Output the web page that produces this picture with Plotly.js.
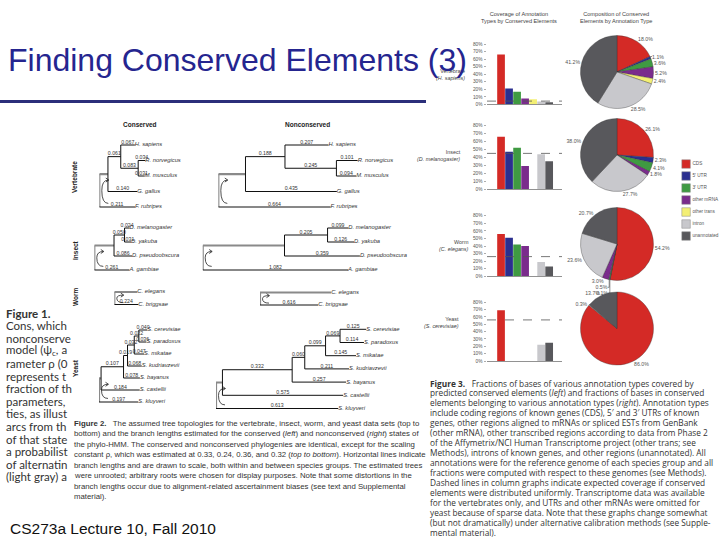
<!DOCTYPE html>
<html><head><meta charset="utf-8">
<script src="https://cdn.plot.ly/plotly-3.0.1.min.js"></script>
<style>html,body{margin:0;padding:0;background:#fff}#chart{width:720px;height:540px}</style>
</head><body><div id="chart"></div>
<script>
// ================= DATA =================
const annotationTypes = ["CDS", "5\u2032 UTR", "3\u2032 UTR", "other mRNA", "other trans", "intron", "unannotated"];
const typeColors = ["#d42a26", "#2b2f8f", "#3f9a42", "#7a2c8c", "#f3ef74", "#c8c8cc", "#58585c"];
const speciesGroups = ["Vertebrate", "Insect", "Worm", "Yeast"];
const referenceGenomes = ["H. sapiens", "D. melanogaster", "C. elegans", "S. cerevisiae"];

// coverage of annotation types by conserved elements (%)
const coverageVertebrate = [66, 21, 17, 8, 7, 4, 3];
const coverageInsect     = [66, 47, 52, 29, null, 44, 35];
const coverageWorm       = [56, 51, 42, 40, null, 19, 13];
const coverageYeast      = [69, null, null, null, null, 22, 25];
const expectedCoverage   = [4.5, 45, 26, 56];
const coverageTickVals   = [0, 10, 20, 30, 40, 50, 60, 70, 80];
const coverageTickText   = ["0%", "10%", "20%", "30%", "40%", "50%", "60%", "70%", "80%"];

// composition of conserved elements by annotation type (%)
const compositionVertebrate = [18.0, 1.1, 3.6, 5.2, 2.4, 28.5, 41.2];
const compositionInsect     = [26.1, 2.3, 4.1, 1.8, null, 27.7, 38.0];
const compositionWorm       = [54.2, 0.1, 0.5, 3.0, null, 23.6, 20.7];
const compositionYeast      = [86.0, null, null, null, null, 0.3, 13.7];

// phylogenies (parent lists + branch lengths; root edge label on the 2nd root child)
const vertNodes   = ["root", "n1", "n2", "H. sapiens", "n3", "R. norvegicus", "M. musculus", "G. gallus", "F. rubripes"];
const vertParents = ["", "root", "n1", "n2", "n2", "n3", "n3", "n1", "root"];
const vertConserved    = [null, null, 0.061, 0.067, 0.083, 0.034, 0.031, 0.140, 0.211];
const vertNonconserved = [null, null, 0.188, 0.207, 0.245, 0.101, 0.094, 0.435, 0.664];

const insectNodes   = ["root", "n1", "n2", "D. melanogaster", "D. yakuba", "D. pseudoobscura", "A. gambiae"];
const insectParents = ["", "root", "n1", "n2", "n2", "n1", "root"];
const insectConserved    = [null, null, 0.050, 0.024, 0.031, 0.086, 0.261];
const insectNonconserved = [null, null, 0.205, 0.099, 0.126, 0.359, 1.082];

const wormNodes   = ["root", "C. elegans", "C. briggsae"];
const wormParents = ["", "root", "root"];
const wormConserved    = [null, null, 0.224];
const wormNonconserved = [null, null, 0.616];

const yeastNodes   = ["root", "n1", "n2", "n3", "n4", "n5", "S. cerevisiae", "S. paradoxus", "S. mikatae", "S. kudriavzevii", "S. bayanus", "S. castellii", "S. kluyveri"];
const yeastParents = ["", "root", "n1", "n2", "n3", "n4", "n5", "n5", "n4", "n3", "n2", "n1", "root"];
const yeastConserved    = [null, null, 0.107, 0.019, 0.032, 0.022, 0.040, 0.036, 0.047, 0.068, 0.078, 0.184, 0.197];
const yeastNonconserved = [null, null, 0.332, 0.060, 0.099, 0.069, 0.125, 0.114, 0.145, 0.211, 0.257, 0.575, 0.613];

// ================= LAYOUT HELPERS =================
const W = 720, H = 540;
const fx = p => p / W, fy = p => 1 - p / H;
const domX = (a, b) => [fx(a), Math.min(1, fx(b))];
const domY = (top, bot) => [Math.max(0, fy(bot)), Math.min(1, fy(top))];
const FONT = "Liberation Sans, Arial, sans-serif";
const PX_PER_UNIT = 210;

const traces = [];
const layout = {
  width: W, height: H, margin: {l: 0, r: 0, t: 0, b: 0},
  paper_bgcolor: "#ffffff", plot_bgcolor: "rgba(0,0,0,0)",
  showlegend: false, bargap: 0.04, font: {family: FONT, color: "#333"},
  annotations: [], shapes: []
};
let axisCount = 0;
function newAxes(xdom, ydom, xopt, yopt) {
  axisCount++;
  const n = axisCount === 1 ? "" : String(axisCount);
  layout["xaxis" + n] = Object.assign({domain: xdom, anchor: "y" + n, fixedrange: true}, xopt);
  layout["yaxis" + n] = Object.assign({domain: ydom, anchor: "x" + n, fixedrange: true}, yopt);
  return {x: "x" + n, y: "y" + n};
}

// ================= BAR CHARTS =================
const coverageSeries = [coverageVertebrate, coverageInsect, coverageWorm, coverageYeast];
const barBoxes = [[44, 104.5], [125.7, 189], [215.7, 276.3], [302.3, 361]];
coverageSeries.forEach((vals, k) => {
  const ax = newAxes(domX(487, 562), domY(barBoxes[k][0], barBoxes[k][1]),
    {type: "category", range: [-1.75, 7.6], showline: true, linecolor: "#777", linewidth: 0.8,
     showticklabels: false, ticks: "", showgrid: false, zeroline: false},
    {range: [0, 80], tickvals: coverageTickVals, ticktext: coverageTickText, ticks: "outside",
     ticklen: 2.5, tickwidth: 0.6, tickcolor: "#777", showline: false, showgrid: false,
     zeroline: false, tickfont: {size: 4.8, color: "#555", family: FONT}});
  traces.push({type: "bar", x: annotationTypes, y: vals, xaxis: ax.x, yaxis: ax.y,
    marker: {color: typeColors, line: {width: 0}}, hoverinfo: "skip"});
  layout.shapes.push({type: "line", xref: ax.x + " domain", yref: ax.y, x0: 0, x1: 1,
    y0: expectedCoverage[k], y1: expectedCoverage[k], line: {color: "#555", width: 0.8, dash: "dash"}});
});

// ================= PIE CHARTS =================
const compositionSeries = [compositionVertebrate, compositionInsect, compositionWorm, compositionYeast];
const pieCentersY = [72, 155, 244, 328.5];
const pieR = 36.5, pieCX = 617;
compositionSeries.forEach((vals, k) => {
  traces.push({type: "pie", labels: annotationTypes, values: vals, sort: false,
    direction: "clockwise", rotation: 0,
    domain: {x: domX(pieCX - pieR, pieCX + pieR), y: domY(pieCentersY[k] - pieR, pieCentersY[k] + pieR)},
    marker: {colors: typeColors, line: {color: "#333", width: 0.35}},
    texttemplate: "%{value:.1f}%", textposition: "outside",
    outsidetextfont: {size: 5.2, color: "#555", family: FONT},
    hoverinfo: "skip", showlegend: false});
});

// ================= LEGEND (custom) =================
{
  const ax = newAxes(domX(682, 720), domY(158, 242),
    {range: [-0.6, 5], visible: false}, {range: [6.5, -0.5], visible: false});
  traces.push({type: "scatter", mode: "markers+text", xaxis: ax.x, yaxis: ax.y,
    x: annotationTypes.map(() => 0), y: annotationTypes.map((_, i) => i),
    text: annotationTypes, textposition: "middle right",
    textfont: {size: 4.7, color: "#555", family: FONT},
    marker: {symbol: "square", size: 8.5, color: typeColors, line: {color: "#888", width: 0.5}},
    cliponaxis: false, hoverinfo: "skip"});
}

// ================= TREES =================
function layoutTree(nodes, parents, len, rootFrac) {
  const kids = nodes.map(() => []);
  parents.forEach((p, i) => { if (p !== "") kids[nodes.indexOf(p)].push(i); });
  const x = [], y = [];
  let leaf = 0;
  function place(i, xi) {
    x[i] = xi;
    if (!kids[i].length) { y[i] = leaf++; return; }
    kids[i].forEach(c => place(c, xi + len[c]));
    const ys = kids[i].map(c => y[c]);
    y[i] = (Math.min(...ys) + Math.max(...ys)) / 2;
  }
  const root = parents.indexOf("");
  const rc = kids[root];
  const L = len[rc[1]];
  x[root] = 0;
  place(rc[0], rootFrac * L);
  place(rc[1], (1 - rootFrac) * L);
  y[root] = (y[rc[0]] + y[rc[1]]) / 2;
  return {x, y, kids, root, rc, L, nLeaves: leaf};
}

const treePanels = [
  {nodes: vertNodes, parents: vertParents, len: vertConserved,    rootX: 99.3,  y0: 145, dy: 15.5, f: 0.195},
  {nodes: vertNodes, parents: vertParents, len: vertNonconserved, rootX: 218.3, y0: 145, dy: 15.5, f: 0.195},
  {nodes: insectNodes, parents: insectParents, len: insectConserved,    rootX: 94.3,  y0: 228, dy: 14, f: 0.36},
  {nodes: insectNodes, parents: insectParents, len: insectNonconserved, rootX: 202.7, y0: 228, dy: 14, f: 0.36},
  {nodes: wormNodes, parents: wormParents, len: wormConserved,    rootX: 114.3, y0: 292, dy: 12.5, f: 0.49},
  {nodes: wormNodes, parents: wormParents, len: wormNonconserved, rootX: 260,   y0: 292.5, dy: 12.5, f: 0.55},
  {nodes: yeastNodes, parents: yeastParents, len: yeastConserved,    rootX: 99,  y0: 330, dy: 12, f: 0.05},
  {nodes: yeastNodes, parents: yeastParents, len: yeastNonconserved, rootX: 216, y0: 329.3, dy: 13.2, f: 0.05}
];

treePanels.forEach(p => {
  const T = layoutTree(p.nodes, p.parents, p.len, p.f);
  const widthPx = 190;
  const ax = newAxes(domX(p.rootX, p.rootX + widthPx),
    domY(p.y0 - p.dy / 2, p.y0 + (T.nLeaves - 0.5) * p.dy),
    {range: [0, widthPx / PX_PER_UNIT], visible: false},
    {range: [T.nLeaves - 0.5, -0.5], visible: false});
  const lx = [], ly = [], rx = [], ry = [];
  const labX = [], labY = [], labT = [];
  const leafX = [], leafY = [], leafT = [];
  p.nodes.forEach((name, i) => {
    if (i === T.root) return;
    const par = p.nodes.indexOf(p.parents[i]);
    const isRootStem = (par === T.root);
    const tx = isRootStem ? rx : lx, ty = isRootStem ? ry : ly;
    if (isRootStem && i === T.rc[1]) { lx.push(T.x[par], T.x[i], null); ly.push(T.y[i], T.y[i], null); }
    else { tx.push(T.x[par], T.x[i], null); ty.push(T.y[i], T.y[i], null); }
    if (p.len[i] !== null || i === T.rc[1]) {
      const v = (i === T.rc[1]) ? T.L : p.len[i];
      labX.push((T.x[par] + T.x[i]) / 2); labY.push(T.y[i]); labT.push(v.toFixed(3));
    }
    if (!T.kids[i].length) { leafX.push(T.x[i]); leafY.push(T.y[i]); leafT.push(name); }
  });
  p.nodes.forEach((name, i) => {
    if (!T.kids[i].length) return;
    const ys = T.kids[i].map(c => T.y[c]);
    const tx = i === T.root ? rx : lx, ty = i === T.root ? ry : ly;
    tx.push(T.x[i], T.x[i], null); ty.push(Math.min(...ys), Math.max(...ys), null);
  });
  traces.push({type: "scatter", mode: "lines", x: rx, y: ry, xaxis: ax.x, yaxis: ax.y,
    line: {color: "#8a8a8a", width: 2.2}, hoverinfo: "skip", cliponaxis: false});
  traces.push({type: "scatter", mode: "lines", x: lx, y: ly, xaxis: ax.x, yaxis: ax.y,
    line: {color: "#111", width: 1}, hoverinfo: "skip", cliponaxis: false});
  traces.push({type: "scatter", mode: "text", x: labX, y: labY, text: labT, textposition: "top center",
    textfont: {size: 5.2, color: "#333", family: FONT}, xaxis: ax.x, yaxis: ax.y, hoverinfo: "skip", cliponaxis: false});
  traces.push({type: "scatter", mode: "text", x: leafX, y: leafY, text: leafT, textposition: "middle right",
    textfont: {size: 5.8, color: "#333", family: FONT, style: "italic"}, xaxis: ax.x, yaxis: ax.y, hoverinfo: "skip", cliponaxis: false});
  // rotation arc at the (arbitrary) root
  const rX = p.rootX, yt = p.y0 + T.y[T.rc[0]] * p.dy, yb = p.y0 + T.y[T.rc[1]] * p.dy;
  const ym = (yt + yb) / 2, h = Math.min(6, (yb - yt) / 4);
  const P = (a, b) => fx(a).toFixed(5) + "," + fy(b).toFixed(5);
  layout.shapes.push({type: "path", xref: "paper", yref: "paper", line: {color: "#222", width: 0.8},
    path: "M" + P(rX + 9, yt + h) + " Q" + P(rX + 2.5, yt + h) + " " + P(rX + 2.5, ym) +
          " Q" + P(rX + 2.5, yb - h * 0.6) + " " + P(rX + 9, yb - h * 0.6)});
  layout.shapes.push({type: "path", xref: "paper", yref: "paper", line: {color: "#222", width: 0.8},
    path: "M" + P(rX + 6.5, yt + h - 2) + " L" + P(rX + 9.5, yt + h) + " L" + P(rX + 6.5, yt + h + 2)});
});

// ================= TEXT =================
function ann(xp, yp, text, size, opts) {
  layout.annotations.push(Object.assign({xref: "paper", yref: "paper", x: fx(xp), y: fy(yp), text: text,
    showarrow: false, xanchor: "left", yanchor: "middle", align: "left",
    font: {size: size, color: "#222", family: FONT}}, opts || {}));
}
// chart titles
ann(519, 18, "Coverage of Annotation<br>Types by Conserved Elements", 5.6, {xanchor: "center", align: "center", font: {size: 5.6, color: "#444", family: FONT}});
ann(616, 18, "Composition of Conserved<br>Elements by Annotation Type", 5.6, {xanchor: "center", align: "center", font: {size: 5.6, color: "#444", family: FONT}});
// right-side row labels
const rowLabelPos = [[467, 75], [463, 156], [471, 245], [461, 322]];
speciesGroups.forEach((g, k) => {
  ann(rowLabelPos[k][0], rowLabelPos[k][1], g + "<br><i>(" + referenceGenomes[k] + ")</i>", 5.4,
      {xanchor: "right", align: "right", font: {size: 5.4, color: "#444", family: FONT}});
});
// tree headers
ann(140, 124, "<b>Conserved</b>", 6.5, {xanchor: "center"});
ann(307, 124, "<b>Nonconserved</b>", 6.5, {xanchor: "center"});
const treeRowY = [177, 250, 297, 368];
speciesGroups.forEach((g, k) => ann(75, treeRowY[k], "<b>" + g + "</b>", 6.5, {xanchor: "center", textangle: -90}));

// Figure 1 (cropped text at left)
const fig1Lines = ["<b>Figure 1.</b>", "Cons, which", "nonconserve", "model (\u03c8<sub>c</sub>, a", "rameter \u03c1 (0",
  "represents t", "fraction of th", "parameters,", "ties, as illust", "arcs from th", "of that state",
  "a probabilist", "of alternatin", "(light gray) a"];
fig1Lines.forEach((t, i) => ann(4, 313 + 12.6 * i, t, 11.5, {font: {size: 11.5, color: "#333", family: "Lato, Open Sans, sans-serif"}}));

// Figure 2 caption
const fig2Lines = [
  "<b>Figure 2.</b>   The assumed tree topologies for the vertebrate, insect, worm, and yeast data sets (top to",
  "bottom) and the branch lengths estimated for the conserved (<i>left</i>) and nonconserved (<i>right</i>) states of",
  "the phylo-HMM. The conserved and nonconserved phylogenies are identical, except for the scaling",
  "constant \u03c1, which was estimated at 0.33, 0.24, 0.36, and 0.32 (<i>top to bottom</i>). Horizontal lines indicate",
  "branch lengths and are drawn to scale, both within and between species groups. The estimated trees",
  "were unrooted; arbitrary roots were chosen for display purposes. Note that some distortions in the",
  "branch lengths occur due to alignment-related ascertainment biases (see text and Supplemental",
  "material)."];
fig2Lines.forEach((t, i) => ann(72, 423.3 + 10.5 * i, t, 7.8, {font: {size: 7.8, color: "#333", family: FONT}}));

// Figure 3 caption
const fig3Lines = [
  "<b>Figure 3.</b>   Fractions of bases of various annotation types covered by",
  "predicted conserved elements (<i>left</i>) and fractions of bases in conserved",
  "elements belonging to various annotation types (<i>right</i>). Annotation types",
  "include coding regions of known genes (CDS), 5\u2032 and 3\u2032 UTRs of known",
  "genes, other regions aligned to mRNAs or spliced ESTs from GenBank",
  "(other mRNA), other transcribed regions according to data from Phase 2",
  "of the Affymetrix/NCI Human Transcriptome project (other trans; see",
  "Methods), introns of known genes, and other regions (unannotated). All",
  "annotations were for the reference genome of each species group and all",
  "fractions were computed with respect to these genomes (see Methods).",
  "Dashed lines in column graphs indicate expected coverage if conserved",
  "elements were distributed uniformly. Transcriptome data was available",
  "for the vertebrates only, and UTRs and other mRNAs were omitted for",
  "yeast because of sparse data. Note that these graphs change somewhat",
  "(but not dramatically) under alternative calibration methods (see Supple-",
  "mental material)."];
fig3Lines.forEach((t, i) => ann(428, 383 + 9.95 * i, t, 8.3, {font: {size: 8.3, color: "#333", family: "Open Sans, sans-serif"}}));

// slide chrome
layout.shapes.push({type: "line", xref: "paper", yref: "paper", x0: 0, x1: fx(426), y0: fy(101.5), y1: fy(101.5),
  line: {color: "#2b2f7a", width: 3}});
ann(8, 528, "CS273a Lecture 10, Fall 2010", 15.5, {font: {size: 15.5, color: "#111", family: FONT}});
ann(6, 60, "Finding Conserved Elements (3)", 32, {font: {size: 32, color: "#25258f", family: FONT}});

Plotly.newPlot("chart", traces, layout, {displayModeBar: false, staticPlot: true});
</script></body></html>
